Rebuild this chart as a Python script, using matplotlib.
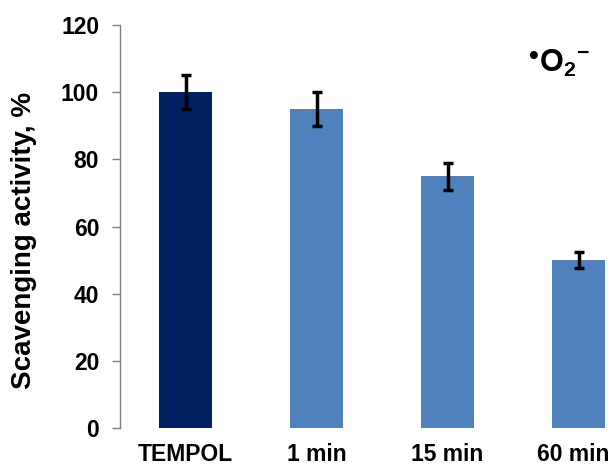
import numpy as np
import matplotlib
matplotlib.use("Agg")
import matplotlib.pyplot as plt
from matplotlib.transforms import ScaledTranslation

plt.rcParams['font.family'] = ['Liberation Sans', 'DejaVu Sans']
plt.rcParams['mathtext.fontset'] = 'custom'
plt.rcParams['mathtext.rm'] = 'Liberation Sans:bold'
plt.rcParams['mathtext.bf'] = 'Liberation Sans:bold'

# data
categories = ['TEMPOL', '1 min', '15 min', '60 min']
activity = [100, 95, 75, 50]
errors = [5, 5, 4, 2.5]
bar_colors = ['#002060', '#4F81BD', '#4F81BD', '#4F81BD']

W, H = 615, 466
fig = plt.figure(figsize=(W / 100, H / 100), dpi=100)
ax = fig.add_axes([120 / W, 38 / H, 495 / W, 403 / H])

x = np.arange(len(categories))
ax.bar(x, activity, width=0.4, color=bar_colors, zorder=2)
ax.errorbar(x, activity, yerr=errors, fmt='none', ecolor='black',
            elinewidth=2.5, capsize=3.6, capthick=2.5, zorder=3)

ax.set_xlim(-0.5, -0.5 + 495 / 131)
ax.set_ylim(0, 120)
ax.set_yticks(range(0, 121, 20))
ax.set_xticks(x)
ax.set_xticklabels(categories, fontsize=16.5, fontweight='bold')
ax.tick_params(axis='x', length=0, pad=11)
ax.tick_params(axis='y', labelsize=16.5, length=6, width=1, color='#808080', pad=9)
for lbl in ax.get_yticklabels():
    lbl.set_fontweight('bold')

# last label sits a little left so it stays inside the picture
last = ax.get_xticklabels()[-1]
last.set_transform(last.get_transform() + ScaledTranslation(-5 / 100, 0, fig.dpi_scale_trans))

for side in ['top', 'right', 'bottom']:
    ax.spines[side].set_visible(False)
ax.spines['left'].set_color('#808080')
ax.spines['left'].set_linewidth(1)

# y axis title
fig.text(24 / W, 1 - 240 / H, 'Scavenging activity, %', rotation=90,
         fontsize=20, fontweight='bold', ha='center', va='center')

# superoxide label
fig.text(533 / W, 1 - 57 / H, '•', fontsize=20, fontweight='bold',
         ha='center', va='center')
fig.text(539 / W, 1 - 72 / H, r'O$_2$$^{-}$', fontsize=22, fontweight='bold',
         ha='left', va='baseline')

fig.savefig('out.png', dpi=100)
